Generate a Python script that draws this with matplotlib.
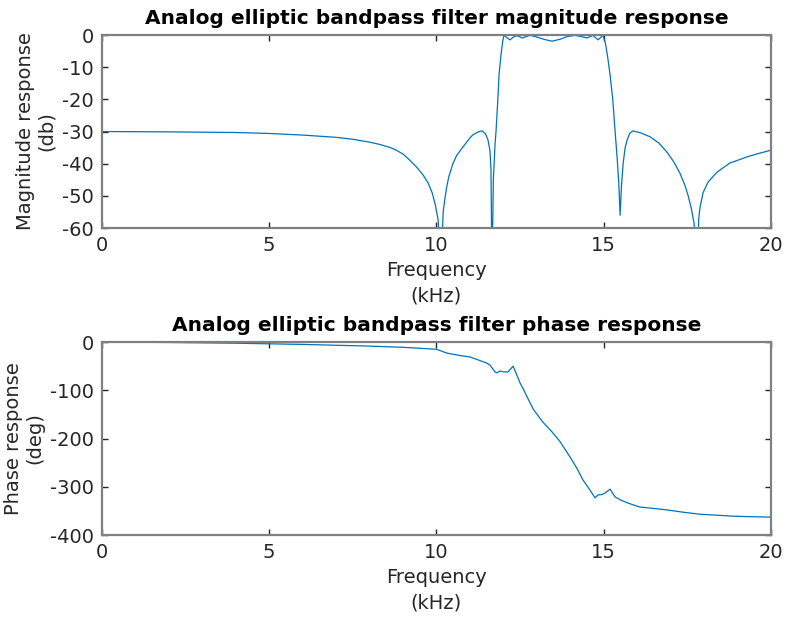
import matplotlib
matplotlib.use("Agg")
import matplotlib.pyplot as plt

# ---------- data ----------
mag_freq = [0, 2, 4, 5, 6, 7, 7.5, 8, 8.3, 8.6, 8.8, 9.0, 9.1, 9.2, 9.4, 9.6, 9.75, 9.87,
            9.97, 10.05, 10.13, 10.2, 10.25, 10.31, 10.37, 10.49, 10.6, 10.79, 11.0, 11.09,
            11.25, 11.36, 11.46, 11.54, 11.6, 11.63, 11.66, 11.70, 11.75, 11.78, 11.84, 11.87,
            11.93, 11.98, 12.02, 12.1, 12.2, 12.3, 12.41, 12.56, 12.8, 13.0, 13.2, 13.45, 13.7,
            13.9, 14.14, 14.35, 14.5, 14.68, 14.83, 14.98, 15.05, 15.12, 15.19, 15.27, 15.34,
            15.4, 15.45, 15.49, 15.53, 15.58, 15.64, 15.70, 15.78, 15.87, 16.1, 16.38, 16.65,
            16.89, 17.1, 17.28, 17.42, 17.52, 17.62, 17.7, 17.79, 17.84, 17.88, 17.97, 18.12,
            18.39, 18.77, 19.28, 19.6, 20.0]
mag_db = [-30.0, -30.1, -30.3, -30.6, -31.1, -31.8, -32.4, -33.3, -34.0, -34.9, -35.8, -37.0,
          -37.9, -38.9, -41.0, -43.5, -46.0, -49.0, -53.0, -57.5, -75, -55, -51, -47, -44,
          -40, -37.5, -34.8, -32.0, -31.0, -30.1, -29.8, -30.6, -32.6, -36.0, -42.0, -75, -45,
          -34, -30, -19, -12.4, -6, -2, 0, -0.8, -1.5, -0.6, -0.2, -0.9, -0.1, -0.6, -1.3,
          -1.9, -1.3, -0.5, -0.1, -0.5, -0.9, -0.1, -1.5, -0.1, -2.5, -7, -12.4, -20, -30,
          -38, -46, -56, -47, -40, -35, -32.6, -30.5, -29.8, -30.4, -31.6, -33.6, -36.4,
          -39.5, -43.0, -46.5, -49.8, -54.0, -58.5, -75, -57, -53.5, -49.0, -45.7,
          -42.6, -39.8, -37.9, -36.9, -35.8]

ph_freq = [0, 2, 4, 6, 8, 9, 9.5, 10.0, 10.31, 10.7, 11.0, 11.5, 11.6, 11.75, 11.81, 11.9,
           12.0, 12.14, 12.29, 12.4, 12.5, 12.62, 12.74, 12.9, 13.18, 13.45, 13.69, 13.99,
           14.2, 14.38, 14.6, 14.74, 14.83, 14.95, 15.04, 15.19, 15.34, 15.49, 15.73,
           16.08, 16.5, 16.89, 17.4, 17.88, 18.4, 18.86, 19.4, 20.0]
ph_deg = [0, -1, -2.5, -5, -8.5, -11, -13, -15, -23, -28, -31, -43.5, -48, -62, -64, -60,
          -62, -62, -50, -68, -85, -101, -118, -140, -166, -186, -206, -238,
          -262, -286, -308, -323, -317, -316, -313, -305, -321, -327, -334,
          -342, -345, -348, -353, -357, -359, -361, -362, -363]

# ---------- style ----------
plt.rcParams['font.family'] = ['DejaVu Sans']
plt.rcParams['axes.unicode_minus'] = False
text_col = '#262626'
axis_col = '#808080'
line_col = '#0072BD'
FS = 14

fig = plt.figure(figsize=(7.88, 6.18), dpi=100)
ax1 = fig.add_axes([0.1294, 0.631, 0.849, 0.3123])
ax2 = fig.add_axes([0.1294, 0.1343, 0.849, 0.3123])


def style(ax):
    for sp in ax.spines.values():
        sp.set_color(axis_col)
        sp.set_linewidth(1.6)
    ax.tick_params(direction='in', top=True, right=True, length=4, width=1,
                   color='#262626', labelcolor=text_col, labelsize=FS, pad=6)
    ax.set_xlim(0, 20)
    ax.set_xticks([0, 5, 10, 15, 20])
    ax.set_xlabel("Frequency\n(kHz)", fontsize=FS, color=text_col, labelpad=4,
                  linespacing=1.45)


ax1.plot(mag_freq, mag_db, color=line_col, lw=0.9)
style(ax1)
ax1.set_ylim(-60, 0)
ax1.set_yticks(range(-60, 1, 10))
ax1.set_ylabel("Magnitude response\n(db)", fontsize=FS, color=text_col, labelpad=4,
               linespacing=1.15)
ax1.set_title("Analog elliptic bandpass filter magnitude response",
              fontsize=14.5, fontweight='bold', color='black', pad=8)

ax2.plot(ph_freq, ph_deg, color=line_col, lw=0.9)
style(ax2)
ax2.set_ylim(-400, 0)
ax2.set_yticks(range(-400, 1, 100))
ax2.set_ylabel("Phase response\n(deg)", fontsize=FS, color=text_col, labelpad=4,
               linespacing=1.15)
ax2.set_title("Analog elliptic bandpass filter phase response",
              fontsize=14.5, fontweight='bold', color='black', pad=8)

fig.savefig("out.png", dpi=100)
